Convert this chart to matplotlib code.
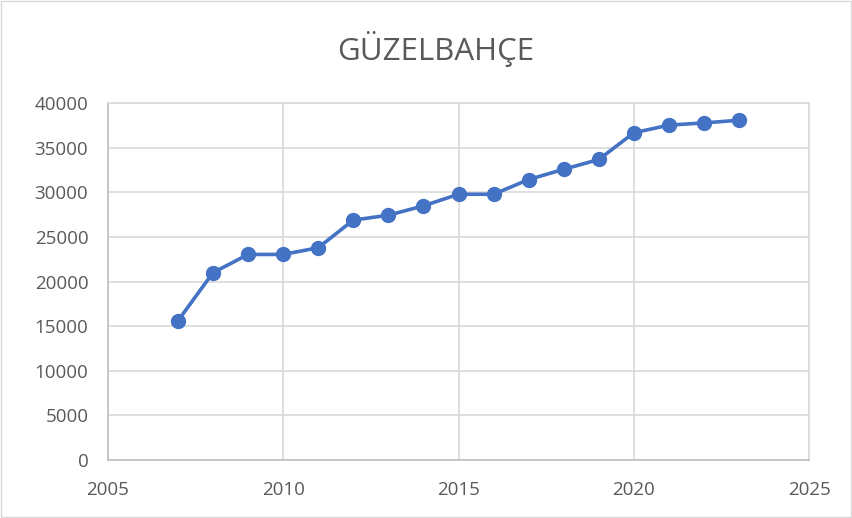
import matplotlib.pyplot as plt
from matplotlib.patches import Rectangle

# Data
years = [2007, 2008, 2009, 2010, 2011, 2012, 2013, 2014, 2015,
         2016, 2017, 2018, 2019, 2020, 2021, 2022, 2023]
population = [15600, 21000, 23050, 23050, 23800, 26900, 27450, 28500, 29800,
              29800, 31450, 32600, 33700, 36700, 37550, 37800, 38100]
x_ticks = [2005, 2010, 2015, 2020, 2025]
y_ticks = list(range(0, 40001, 5000))

plt.rcParams['font.family'] = ['Open Sans', 'DejaVu Sans']

fig = plt.figure(figsize=(8.53, 5.18), dpi=100)
ax = fig.add_axes([0.1263, 0.112, 0.8225, 0.6886])

grid_color = '#d9d9d9'
text_color = '#595959'

ax.plot(years, population, color='#4472C4', lw=2.6, marker='o',
        markersize=10, zorder=3, clip_on=False)

ax.set_xlim(2005, 2025)
ax.set_ylim(0, 40000)
ax.set_xticks(x_ticks)
ax.set_yticks(y_ticks)
ax.grid(True, color=grid_color, lw=1.2)
ax.set_axisbelow(True)
for name, sp in ax.spines.items():
    sp.set_color(grid_color)
    sp.set_linewidth(1.2)
ax.spines['left'].set_color('#bfbfbf')
ax.spines['bottom'].set_color('#bfbfbf')
ax.tick_params(length=0, labelsize=13.5, labelcolor=text_color)
ax.tick_params(axis='x', pad=15)
ax.tick_params(axis='y', pad=14)

fig.text(0.511, 0.905, 'GÜZELBAHÇE', ha='center', va='center',
         fontsize=22.5, color=text_color)

# chart frame
fig.patches.append(Rectangle((0.001, 0.002), 0.997, 0.996, transform=fig.transFigure,
                             fill=False, edgecolor=grid_color, lw=1))

fig.savefig('out.png', dpi=100)
